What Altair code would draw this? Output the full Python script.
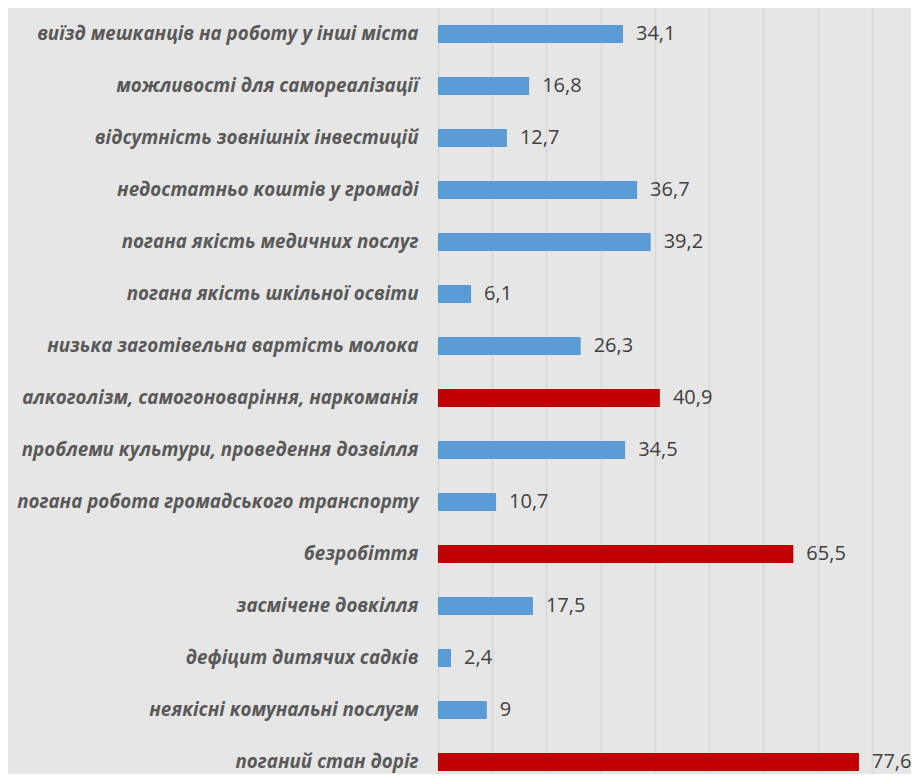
import altair as alt
import pandas as pd

categories = [
    "виїзд мешканців на роботу у інші міста",
    "можливості для самореалізації",
    "відсутність зовнішніх інвестицій ",
    "недостатньо коштів у громаді",
    "погана якість медичних послуг",
    "погана якість шкільної освіти",
    "низька заготівельна вартість молока",
    "алкоголізм, самогоноваріння, наркоманія",
    "проблеми культури,  проведення дозвілля",
    "погана робота громадського транспорту",
    "безробіття ",
    "засмічене довкілля",
    "дефіцит дитячих садків",
    "неякісні комунальні послугм",
    "поганий стан доріг",
]
values = [34.1, 16.8, 12.7, 36.7, 39.2, 6.1, 26.3, 40.9, 34.5, 10.7, 65.5, 17.5, 2.4, 9, 77.6]
highlighted = [
    "алкоголізм, самогоноваріння, наркоманія",
    "безробіття ",
    "поганий стан доріг",
]
grid_values = [0, 10, 20, 30, 40, 50, 60, 70, 80]

def fmt(v):
    s = ("%g" % v)
    return s.replace(".", ",")

df = pd.DataFrame({
    "cat": categories,
    "val": values,
    "label": [fmt(v) for v in values],
    "group": ["hi" if c in highlighted else "norm" for c in categories],
})

FONT = "Open Sans"

base = alt.Chart(df).encode(
    y=alt.Y(
        "cat:N",
        sort=categories,
        title=None,
        scale=alt.Scale(range=[0, 780], paddingInner=0.654, paddingOuter=0.327),
        axis=alt.Axis(
            domain=False,
            ticks=False,
            labelPadding=20,
            labelFont=FONT,
            labelFontSize=18.75,
            labelFontStyle="italic",
            labelFontWeight="bold",
            labelColor="#595959",
            labelLimit=600,
        ),
    ),
    x=alt.X(
        "val:Q",
        title=None,
        scale=alt.Scale(domain=[0, 87.19], nice=False, zero=True),
        axis=alt.Axis(
            labels=False,
            ticks=False,
            domain=False,
            grid=True,
            values=grid_values,
            gridColor="#d9d9d9",
            gridWidth=2,
        ),
    ),
)

bars = base.mark_bar().encode(
    color=alt.Color(
        "group:N",
        scale=alt.Scale(domain=["norm", "hi"], range=["#5B9BD5", "#C00000"]),
        legend=None,
    )
)

texts = base.mark_text(
    align="left", baseline="middle", dx=13, font=FONT, fontSize=20, color="#404040"
).encode(text="label:N")

chart = (
    alt.layer(bars, texts)
    .properties(
        width=473,
        height=766,
        background="#E7E6E6",
        padding={"left": 430, "top": 0, "right": 0, "bottom": 0},
        autosize=alt.AutoSizeParams(type="none"),
    )
    .configure_view(stroke=None)
)

chart.save("out.html", embed_options={"renderer": "svg", "actions": False})
